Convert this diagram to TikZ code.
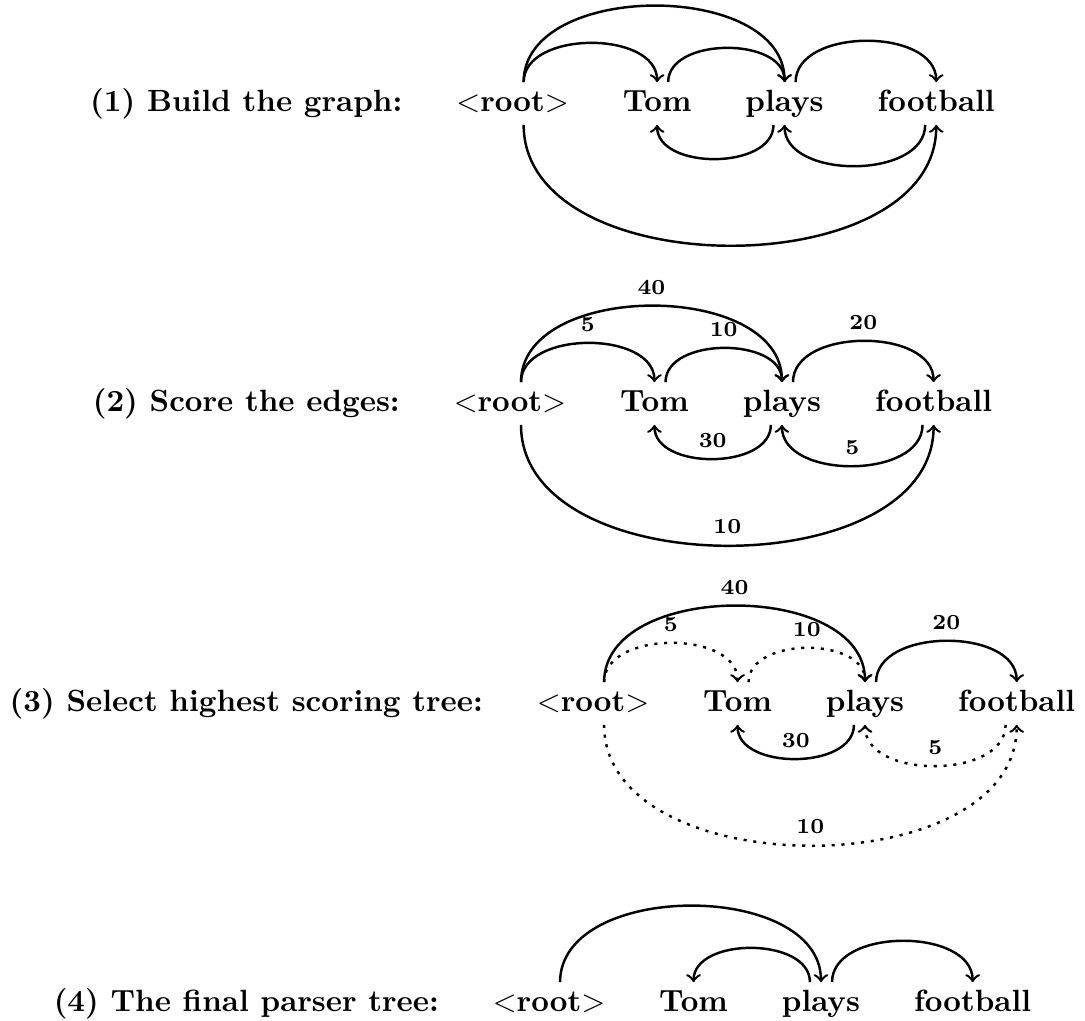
\documentclass[tikz,border=0pt]{standalone}
\usepackage{amsmath,amssymb}
\usepackage{tikz}
\usetikzlibrary{arrows}
\usetikzlibrary{matrix}

\tikzset{
  sentence/.style={matrix of nodes, inner sep=0pt, column sep=12.6pt,
    nodes={font=\bfseries, inner sep=2.5pt, text height=7pt, text depth=1.5pt, anchor=base}},
  dep/.style={->, thick},
  dropped/.style={dep, dash pattern=on 1pt off 2.2pt},
  score/.style={midway, above, font=\scriptsize\bfseries}
}

\begin{document}
\begin{tikzpicture}
        \useasboundingbox (0,0) rectangle (12.422,11.689);
        %
        % (1) all edges
        \matrix (m1) [sentence] at (6.211,10.504) {
          (1) Build the graph: & $<$root$>$ & Tom & plays & football \\
        };
        \draw [dep] ([xshift=3.6pt]m1-1-2.north) to[out=90,in=90] (m1-1-3.north);
        \draw [dep] ([xshift=3.6pt]m1-1-2.north) to[out=90,in=90] (m1-1-4.north);
        \draw [dep] ([xshift=3.6pt]m1-1-3.north) to[out=90,in=90] (m1-1-4.north);
        \draw [dep] ([xshift=3.6pt]m1-1-4.north) to[out=90,in=90] (m1-1-5.north);
        \draw [dep] ([xshift=-3.6pt]m1-1-4.south) to[out=-90,in=-90] (m1-1-3.south);
        \draw [dep] ([xshift=-3.6pt]m1-1-5.south) to[out=-90,in=-90] (m1-1-4.south);
        \draw [dep] ([xshift=3.6pt]m1-1-2.south) to[out=-90,in=-90] (m1-1-5.south);
        %
        % (2) scored edges
        \matrix (m2) [sentence] at (6.211,7.069) {
          (2) Score the edges: & $<$root$>$ & Tom & plays & football \\
        };
        \draw [dep] ([xshift=3.6pt]m2-1-2.north) to[out=90,in=90] node[score] {5} (m2-1-3.north);
        \draw [dep] ([xshift=3.6pt]m2-1-2.north) to[out=90,in=90] node[score] {40} (m2-1-4.north);
        \draw [dep] ([xshift=3.6pt]m2-1-3.north) to[out=90,in=90] node[score] {10} (m2-1-4.north);
        \draw [dep] ([xshift=3.6pt]m2-1-4.north) to[out=90,in=90] node[score] {20} (m2-1-5.north);
        \draw [dep] ([xshift=-3.6pt]m2-1-4.south) to[out=-90,in=-90] node[score] {30} (m2-1-3.south);
        \draw [dep] ([xshift=-3.6pt]m2-1-5.south) to[out=-90,in=-90] node[score] {5} (m2-1-4.south);
        \draw [dep] ([xshift=3.6pt]m2-1-2.south) to[out=-90,in=-90] node[score] {10} (m2-1-5.south);
        %
        % (3) best tree solid, the rest dotted
        \matrix (m3) [sentence] at (6.211,3.635) {
          (3) Select highest scoring tree: & $<$root$>$ & Tom & plays & football \\
        };
        \draw [dropped] ([xshift=3.6pt]m3-1-2.north) to[out=90,in=90] node[score] {5} (m3-1-3.north);
        \draw [dep] ([xshift=3.6pt]m3-1-2.north) to[out=90,in=90] node[score] {40} (m3-1-4.north);
        \draw [dropped] ([xshift=3.6pt]m3-1-3.north) to[out=90,in=90] node[score] {10} (m3-1-4.north);
        \draw [dep] ([xshift=3.6pt]m3-1-4.north) to[out=90,in=90] node[score] {20} (m3-1-5.north);
        \draw [dep] ([xshift=-3.6pt]m3-1-4.south) to[out=-90,in=-90] node[score] {30} (m3-1-3.south);
        \draw [dropped] ([xshift=-3.6pt]m3-1-5.south) to[out=-90,in=-90] node[score] {5} (m3-1-4.south);
        \draw [dropped] ([xshift=3.6pt]m3-1-2.south) to[out=-90,in=-90] node[score] {10} (m3-1-5.south);
        %
        % (4) final tree
        \matrix (m4) [sentence] at (6.211,0.200) {
          (4) The final parser tree: & $<$root$>$ & Tom & plays & football \\
        };
        \draw [dep] ([xshift=3.6pt]m4-1-2.north) to[out=90,in=90] (m4-1-4.north);
        \draw [dep] ([xshift=-3.6pt]m4-1-4.north) to[out=90,in=90] (m4-1-3.north);
        \draw [dep] ([xshift=3.6pt]m4-1-4.north) to[out=90,in=90] (m4-1-5.north);
      \end{tikzpicture}
\end{document}
